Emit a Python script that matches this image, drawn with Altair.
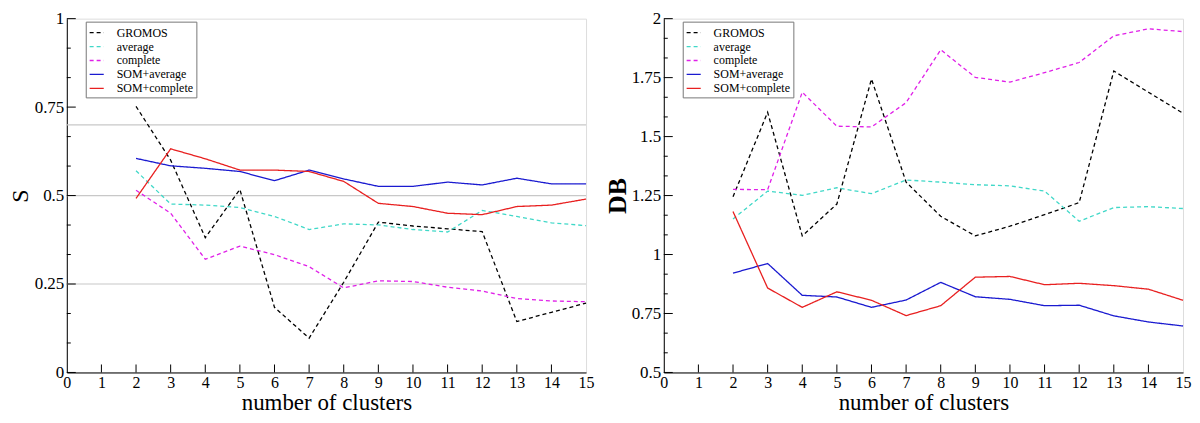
import altair as alt
import pandas as pd

clusters = list(range(2, 16))
methods = ["GROMOS", "average", "complete", "SOM+average", "SOM+complete"]
colors = ["#000000", "#40d8c8", "#e020e8", "#1a1ad0", "#e82020"]
dashes = [[4, 3], [4, 3], [4, 3], [1, 0], [1, 0]]

S_gromos = [0.752, 0.60, 0.381, 0.517, 0.184, 0.097, 0.255, 0.425, 0.414, 0.406, 0.398, 0.144, 0.17, 0.196]
S_average = [0.57, 0.476, 0.473, 0.466, 0.441, 0.404, 0.42, 0.417, 0.404, 0.397, 0.458, 0.441, 0.423, 0.415]
S_complete = [0.515, 0.45, 0.32, 0.357, 0.333, 0.299, 0.239, 0.259, 0.257, 0.241, 0.23, 0.209, 0.202, 0.2]
S_som_avg = [0.605, 0.584, 0.577, 0.568, 0.542, 0.572, 0.547, 0.526, 0.526, 0.538, 0.53, 0.549, 0.533, 0.533]
S_som_comp = [0.492, 0.632, 0.604, 0.572, 0.572, 0.568, 0.54, 0.478, 0.469, 0.45, 0.446, 0.469, 0.473, 0.49]

DB_gromos = [1.245, 1.603, 1.079, 1.214, 1.744, 1.307, 1.162, 1.079, 1.12, 1.169, 1.22, 1.778, 1.688, 1.599]
DB_average = [1.151, 1.269, 1.251, 1.283, 1.258, 1.316, 1.307, 1.296, 1.291, 1.269, 1.141, 1.199, 1.203, 1.195]
DB_complete = [1.276, 1.275, 1.688, 1.544, 1.541, 1.644, 1.868, 1.751, 1.731, 1.771, 1.814, 1.927, 1.957, 1.945]
DB_som_avg = [0.921, 0.962, 0.827, 0.82, 0.776, 0.807, 0.882, 0.821, 0.81, 0.783, 0.785, 0.74, 0.714, 0.697]
DB_som_comp = [1.182, 0.858, 0.776, 0.842, 0.806, 0.741, 0.783, 0.904, 0.907, 0.872, 0.878, 0.868, 0.853, 0.806]

S_grid = [0.25, 0.5, 0.7]
x_ticks = list(range(0, 16))
S_major = [0, 0.25, 0.5, 0.75, 1]
DB_major = [0.5, 0.75, 1, 1.25, 1.5, 1.75, 2]

FONT = "Liberation Serif"
W, H = 521, 355


def long_df(series):
    rows = []
    for m, vals in zip(methods, series):
        for x, v in zip(clusters, vals):
            rows.append({"x": x, "method": m, "value": v})
    return pd.DataFrame(rows)


def minor_ticks(lo, hi):
    out = []
    n = int(round((hi - lo) * 12))
    for i in range(n + 1):
        if i % 3 != 0:
            out.append(round(lo + i / 12, 6))
    return out


def legend():
    return alt.Legend(title=None, orient="none", legendX=19, legendY=3,
                      strokeColor="#777777", padding=3, fillColor="white",
                      symbolType="stroke", symbolSize=200, symbolStrokeWidth=1.3,
                      labelFont=FONT, labelFontSize=12, labelColor="black",
                      rowPadding=0, labelOffset=12)


def panel(series, ytitle, ydomain, ymajor, grid=None, title_bold=False):
    df = long_df(series)
    xs = alt.Scale(domain=[0, 15], nice=False)
    ys = alt.Scale(domain=ydomain, nice=False, zero=False)
    xaxis = alt.Axis(values=x_ticks, ticks=False, grid=False, domainColor="black",
                     labelFont=FONT, labelFontSize=16, labelColor="black",
                     labelPadding=2, labelFlush=False, labelOverlap=False, format="d",
                     titleFont=FONT, titleFontSize=23, titleFontWeight="normal",
                     titleColor="black", titlePadding=1)
    yaxis = alt.Axis(values=ymajor, ticks=False, grid=False, domainColor="black",
                     labelFont=FONT, labelFontSize=17, labelColor="black",
                     labelPadding=3, labelFlush=False, labelOverlap=False, format=".2~f",
                     titleFont=FONT, titleFontSize=26 if title_bold else 24,
                     titleFontWeight="bold" if title_bold else "normal",
                     titleColor="black", titleX=-46, titleBaseline="middle")
    xt = "number of clusters"
    layers = []
    if grid:
        gdf = pd.DataFrame({"value": grid})
        layers.append(alt.Chart(gdf).mark_rule(color="#c8c8c8", strokeWidth=1.2).encode(
            y=alt.Y("value:Q", scale=ys, axis=yaxis, title=ytitle)))
    lines = alt.Chart(df).mark_line(strokeWidth=1.3).encode(
        x=alt.X("x:Q", scale=xs, axis=xaxis, title=xt),
        y=alt.Y("value:Q", scale=ys, axis=yaxis, title=ytitle),
        color=alt.Color("method:N", scale=alt.Scale(domain=methods, range=colors), legend=legend()),
        strokeDash=alt.StrokeDash("method:N", scale=alt.Scale(domain=methods, range=dashes),
                                  legend=legend()),
        order=alt.Order("x:Q"),
    )
    layers.append(lines)
    ymdf = pd.DataFrame({"value": ymajor})
    layers.append(alt.Chart(ymdf).mark_rule(color="black").encode(
        y=alt.Y("value:Q", scale=ys, axis=yaxis, title=ytitle), x=alt.value(0), x2=alt.value(9)))
    ymin = pd.DataFrame({"value": minor_ticks(ydomain[0], ydomain[1])})
    layers.append(alt.Chart(ymin).mark_rule(color="black").encode(
        y=alt.Y("value:Q", scale=ys, axis=yaxis, title=ytitle), x=alt.value(0), x2=alt.value(4)))
    xdf = pd.DataFrame({"x": x_ticks[1:-1]})
    layers.append(alt.Chart(xdf).mark_rule(color="black").encode(
        x=alt.X("x:Q", scale=xs, axis=xaxis, title=xt), y=alt.value(H), y2=alt.value(H - 8)))
    return alt.layer(*layers).properties(width=W, height=H).resolve_scale(
        color="independent", strokeDash="independent")


left = panel([S_gromos, S_average, S_complete, S_som_avg, S_som_comp], "S", [0, 1], S_major, grid=S_grid)
right = panel([DB_gromos, DB_average, DB_complete, DB_som_avg, DB_som_comp], "DB", [0.5, 2], DB_major,
              title_bold=True)

chart = alt.hconcat(left, right, spacing=9).resolve_scale(
    color="independent", strokeDash="independent"
).configure_view(stroke="#aaaaaa", strokeWidth=1.2).properties(
    padding={"left": 0, "top": 0, "right": 0, "bottom": 0}
).configure(background="white", font=FONT)

chart.save("out.html", embed_options={"renderer": "svg", "actions": False})
